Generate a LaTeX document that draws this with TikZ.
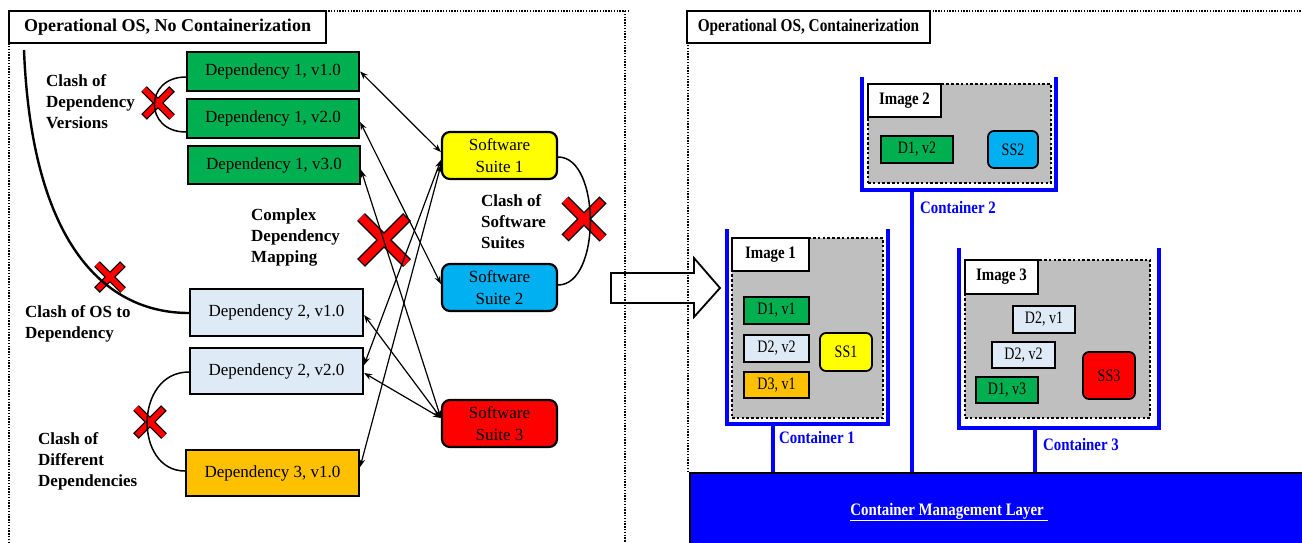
\documentclass[tikz,border=0pt]{standalone}
\usepackage{fontspec}
\setmainfont{Liberation Serif}
\newfontfamily\narrowfont[FakeStretch=0.85]{Liberation Serif}
\newfontfamily\slimfont[FakeStretch=0.8]{Liberation Serif}
\usetikzlibrary{arrows.meta}

\definecolor{depgreen}{HTML}{00B050}
\definecolor{deplight}{HTML}{DEEBF7}
\definecolor{deporange}{HTML}{FFC000}
\definecolor{ssyellow}{HTML}{FFFF00}
\definecolor{ssblue}{HTML}{00B0F0}
\definecolor{ssred}{HTML}{FF0000}
\definecolor{imggray}{HTML}{BFBFBF}
\definecolor{ctblue}{HTML}{0000FF}

% red "clash" cross: centre x, centre y, half size, bar width
\newcommand\clashcross[4]{%
  \draw[black, line width=#4pt]
    ({#1-#3},{#2-#3}) -- ({#1+#3},{#2+#3})
    ({#1-#3},{#2+#3}) -- ({#1+#3},{#2-#3});
  \draw[red, line width=#4pt-2.6pt, shorten >=1.3pt, shorten <=1.3pt]
    ({#1-#3},{#2-#3}) -- ({#1+#3},{#2+#3})
    ({#1-#3},{#2+#3}) -- ({#1+#3},{#2-#3});
}

\begin{document}
\begin{tikzpicture}[x=1pt,y=-1pt,
  panel/.style={line width=1.4pt, dash pattern=on 1.4pt off 1.4pt},
  titlebox/.style={draw, fill=white, line width=1.8pt, inner sep=0pt,
    font=\fontsize{18}{20}\selectfont\bfseries},
  dep/.style={draw, line width=2.2pt, inner sep=0pt,
    font=\fontsize{17}{20}\selectfont},
  suite/.style={draw, rounded corners=8pt, line width=2.2pt, inner sep=0pt,
    align=center, font=\fontsize{17}{22}\selectfont,
    minimum width=115pt, minimum height=47pt},
  note/.style={anchor=west, inner sep=0pt, align=left,
    font=\fontsize{17}{21}\selectfont\bfseries},
  link/.style={{Stealth[length=8pt,width=6pt]}-{Stealth[length=8pt,width=6pt]},
    line width=1.2pt},
  clashcurve/.style={line width=1.5pt},
  imgbox/.style={fill=imggray, draw=black, line width=2.6pt,
    dash pattern=on 2.6pt off 2.2pt, inner sep=0pt},
  imglabel/.style={draw, fill=white, line width=1.8pt, inner sep=0pt,
    font=\narrowfont\fontsize{17.5}{19}\selectfont\bfseries},
  sdep/.style={draw, line width=1.8pt, inner sep=0pt,
    font=\slimfont\fontsize{17.5}{19}\selectfont},
  ssuite/.style={draw, rounded corners=6pt, line width=1.8pt, inner sep=0pt,
    font=\slimfont\fontsize{17.5}{19}\selectfont},
  wall/.style={ctblue, line width=4.5pt},
  ctlabel/.style={anchor=west, inner sep=0pt, text=ctblue,
    font=\narrowfont\fontsize{17.5}{19}\selectfont\bfseries},
]
\useasboundingbox (0,0) rectangle (1302,543);
\clip (0,0) rectangle (1302,543);

% ---------- block arrow between the two panels ----------
\draw[fill=white, line width=1.8pt]
  (611,273) -- (694,273) -- (694,258) -- (720,288) -- (694,317)
  -- (694,303) -- (611,303) -- cycle;

% ---------- panel frames ----------
\draw[panel] (9,543) -- (9,11) -- (628,11);
\draw[panel] (625,11) -- (625,543);
\draw[panel] (688,472) -- (688,11) -- (1302,11);

\node[titlebox, minimum width=317pt, minimum height=32pt] (t1) at (167.5,27)
  {Operational OS, No Containerization};
\node[titlebox, font=\narrowfont\fontsize{18}{20}\selectfont\bfseries,
  minimum width=243pt, minimum height=32pt] (t2) at (808.5,27)
  {Operational OS, Containerization};

% ---------- left panel: clash crosses ----------
\clashcross{158}{103}{14}{8}
\clashcross{384}{240}{23}{11}
\clashcross{110}{277}{13}{8}
\clashcross{150}{422}{14}{8}
\clashcross{584}{219}{19}{10}

% ---------- left panel: dependencies ----------
\node[dep, fill=depgreen, minimum width=172pt, minimum height=39pt] (d11) at (273,71.5) {Dependency 1, v1.0};
\node[dep, fill=depgreen, minimum width=172pt, minimum height=39pt] (d12) at (273,118.5) {Dependency 1, v2.0};
\node[dep, fill=depgreen, minimum width=172pt, minimum height=38pt] (d13) at (274,165) {Dependency 1, v3.0};
\node[dep, fill=deplight, minimum width=173pt, minimum height=47pt] (d21) at (276.5,312.5) {Dependency 2, v1.0};
\node[dep, fill=deplight, minimum width=173pt, minimum height=46pt] (d22) at (276.5,371) {Dependency 2, v2.0};
\node[dep, fill=deporange, minimum width=173pt, minimum height=46pt] (d31) at (272.5,473) {Dependency 3, v1.0};

% ---------- left panel: software suites ----------
\node[suite, fill=ssyellow] (ss1) at (499.5,155.5) {Software\\Suite 1};
\node[suite, fill=ssblue] (ss2) at (499.5,287.5) {Software\\Suite 2};
\node[suite, fill=ssred] (ss3) at (499.5,423.5) {Software\\Suite 3};

% ---------- left panel: labels ----------
\node[note] (lv) at (46,101.5) {Clash of\\Dependency\\Versions};
\node[note] (lm) at (251,237) {Complex\\Dependency\\Mapping};
\node[note] (lo) at (25,323.5) {Clash of OS to\\Dependency};
\node[note] (ld) at (38,461.5) {Clash of\\Different\\Dependencies};
\node[note] (ls) at (481,222) {Clash of\\Software\\Suites};

% ---------- left panel: clash curves ----------
\coordinate (osTop) at (24,50);
\draw[line width=2.4pt] (osTop) .. controls +(8,200) and +(-80,0) .. ([yshift=-0.5pt]d21.west);
\draw[clashcurve] ([yshift=-5.5pt]d11.west) .. controls +(-42,0) and +(-42,0) .. ([yshift=-13.5pt]d12.west);
\draw[clashcurve] ([yshift=-1pt]d22.west) .. controls +(-55,0) and +(-51,0) .. ([yshift=2pt]d31.west);
\draw[clashcurve] ([yshift=-1.5pt]ss1.east) .. controls +(43,0) and +(43,0) .. ([yshift=2.5pt]ss2.east);

% ---------- left panel: dependency mapping ----------
\draw[link] (d11.east) -- ([yshift=3.5pt]ss1.west);
\draw[link] ([yshift=-3.5pt]d12.east) -- ([yshift=3.5pt]ss2.west);
\draw[link] ([yshift=-5pt]d13.east) -- ([yshift=5.5pt]ss3.west);
\draw[link] ([yshift=-2.5pt]d21.east) -- ([yshift=5.5pt]ss3.west);
\draw[link] ([yshift=-2pt]d22.east) -- ([yshift=5.5pt]ss3.west);
\draw[link] ([yshift=6pt]d22.east) -- ([yshift=-4.5pt]ss1.west);
\draw[link] ([yshift=6pt]d31.east) -- ([yshift=-9.5pt]ss1.west);

% ---------- right panel: containers ----------
\coordinate (c1base) at (773,424);
\coordinate (c2base) at (912,190);
\coordinate (c3base) at (1035,428);

\node[anchor=north west, draw=black, fill=ctblue, line width=1.8pt,
  minimum width=640pt, minimum height=90pt, inner sep=0pt] (cml) at (689,472) {};

\draw[wall] (c1base) -- (c1base |- cml.north);
\draw[wall] (c2base) -- (c2base |- cml.north);
\draw[wall] (c3base) -- (c3base |- cml.north);
\draw[black, line width=1.8pt] (689,472.5) -- (1302,472.5);

\node[text=white, inner sep=0pt, font=\narrowfont\fontsize{17.5}{19}\selectfont\bfseries]
  (cmltext) at (949,512) {\underline{Container Management Layer\ }};

% container 1
\draw[wall] (727,229) -- (727,424) -- (888,424) -- (888,229);
\node[imgbox, minimum width=151pt, minimum height=180pt] (i1) at (807.5,328) {};
\node[imglabel, minimum width=77pt, minimum height=33pt] (i1l) at (770.5,254.5) {Image 1};
\node[sdep, fill=depgreen, minimum width=65pt, minimum height=27pt] (r1d1) at (776.5,310.5) {D1, v1};
\node[sdep, fill=deplight, minimum width=65pt, minimum height=27pt] (r1d2) at (776.5,348.5) {D2, v2};
\node[sdep, fill=deporange, minimum width=65pt, minimum height=26pt] (r1d3) at (776.5,385) {D3, v1};
\node[ssuite, fill=ssyellow, minimum width=52pt, minimum height=38pt] (r1ss) at (846,352) {SS1};
\node[ctlabel] (c1l) at (779,438) {Container 1};

% container 2
\draw[wall] (862,77) -- (862,190) -- (1056,190) -- (1056,77);
\node[imgbox, minimum width=183pt, minimum height=99pt] (i2) at (959.5,133.5) {};
\node[imglabel, minimum width=73pt, minimum height=33pt] (i2l) at (904.5,100.5) {Image 2};
\node[sdep, fill=depgreen, minimum width=72pt, minimum height=27pt] (r2d1) at (917,149.5) {D1, v2};
\node[ssuite, fill=ssblue, minimum width=50pt, minimum height=37pt] (r2ss) at (1013,149.5) {SS2};
\node[ctlabel] (c2l) at (920,208) {Container 2};

% container 3
\draw[wall] (959,248) -- (959,428) -- (1159,428) -- (1159,248);
\node[imgbox, minimum width=185pt, minimum height=158pt] (i3) at (1057.5,339) {};
\node[imglabel, minimum width=73pt, minimum height=34pt] (i3l) at (1001.5,277) {Image 3};
\node[sdep, fill=deplight, minimum width=62pt, minimum height=27pt] (r3a) at (1044,319.5) {D2, v1};
\node[sdep, fill=deplight, minimum width=63pt, minimum height=26pt] (r3b) at (1023.5,355) {D2, v2};
\node[sdep, fill=depgreen, minimum width=62pt, minimum height=26pt] (r3c) at (1007,390) {D1, v3};
\node[ssuite, fill=ssred, minimum width=52pt, minimum height=47pt] (r3ss) at (1109,375.5) {SS3};
\node[ctlabel] (c3l) at (1043,445) {Container 3};
\end{tikzpicture}
\end{document}
